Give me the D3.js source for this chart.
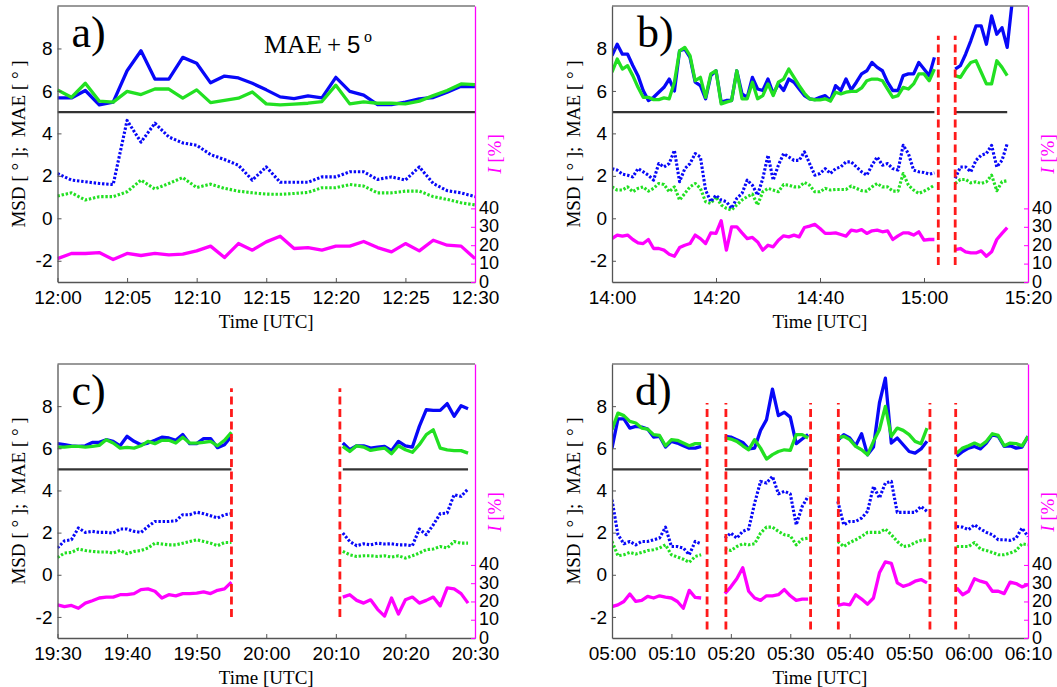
<!DOCTYPE html>
<html>
<head>
<meta charset="utf-8">
<title>MAE / MSD / I</title>
<style type="text/css">
body { margin: 0; background: #fff; }
svg text { fill: #000; }
</style>
</head>
<body>
<script src="https://d3js.org/d3.v7.min.js"></script>
<script type="text/javascript">
// ---- data ----------------------------------------------------------------
// MAE is plotted shifted by +5 deg (see the "MAE + 5 o" note in panel a)
const MAE_SHIFT = 5;
const LEFT_DOMAIN = [-3, 10];
const RIGHT_DOMAIN = [0, 150];
const leftTicks = [-2, 0, 2, 4, 6, 8];
const rightTicks = [0, 10, 20, 30, 40];
const panelLabels = ["a)", "b)", "c)", "d)"];

const xTicksA = ["12:00", "12:05", "12:10", "12:15", "12:20", "12:25", "12:30"];
const xTicksB = ["14:00", "14:20", "14:40", "15:00", "15:20"];
const xTicksC = ["19:30", "19:40", "19:50", "20:00", "20:10", "20:20", "20:30"];
const xTicksD = ["05:00", "05:10", "05:20", "05:30", "05:40", "05:50", "06:00", "06:10"];

// one value per minute from each segment start
const segStartA = ["12:00"];
const segEndA = ["12:30"];
const segStartB = ["14:00", "15:06"];
const segEndB = ["15:02", "15:16"];
const segStartC = ["19:30", "20:11"];
const segEndC = ["19:55", "20:29"];
const segStartD = ["05:00", "05:19", "05:38", "05:58"];
const segEndD = ["05:15", "05:33", "05:53", "06:10"];

const gapsA = [];
const gapsB = ["15:02:45", "15:06:00"];
const gapsC = ["19:55:00", "20:10:35"];
const gapsD = ["05:16:00", "05:19:10", "05:33:25", "05:38:05", "05:53:30", "05:57:50"];

// panel a
const maeBlueA = [[0.67,0.67,1.02,0.34,0.47,1.95,2.89,1.56,1.56,2.58,2.30,1.38,1.70,1.61,1.36,1.05,0.72,0.64,0.77,0.67,1.64,0.98,0.80,0.36,0.36,0.47,0.63,0.69,0.94,1.22,1.20]];
const maeGreenA = [[1.05,0.70,1.36,0.52,0.47,0.98,0.83,1.09,1.09,0.66,1.05,0.45,0.55,0.66,0.95,0.39,0.34,0.38,0.42,0.50,1.27,0.39,0.48,0.42,0.42,0.39,0.52,0.78,1.02,1.33,1.30]];
const msdBlueA = [[2.11,1.80,1.72,1.64,1.59,4.61,3.59,4.48,3.83,3.55,3.44,3.00,2.77,2.50,1.80,2.42,1.70,1.70,1.70,1.95,1.95,2.19,2.19,1.83,1.95,1.80,2.42,1.64,1.30,1.20,1.02]];
const msdGreenA = [[1.05,1.20,0.86,1.02,1.02,1.25,1.80,1.38,1.64,1.92,1.45,1.61,1.41,1.28,1.20,1.14,1.13,1.17,1.22,1.44,1.44,1.59,1.52,1.20,1.20,1.28,1.28,1.02,0.89,0.73,0.63]];
const intensA = [[12.7,15.5,15.5,16.0,12.2,15.5,14.4,15.6,14.7,15.1,16.9,19.5,13.3,20.9,17.3,21.8,24.9,18.2,18.7,17.3,19.5,19.5,22.0,18.7,16.4,20.9,16.9,22.7,20.0,19.5,12.7]];

// panel b
const maeBlueB = [
  [2.66,3.2,2.73,2.73,2.2,1.72,1.02,0.55,0.7,0.94,1.17,1.56,1.0,2.89,2.97,2.58,1.41,1.25,0.63,1.72,1.95,0.47,0.55,0.55,1.95,0.86,0.70,1.64,1.09,1.02,1.56,0.86,1.33,1.02,1.56,1.41,1.09,0.78,0.63,0.59,0.70,0.78,0.55,1.25,1.02,1.56,1.05,1.41,1.8,1.95,2.34,2.11,1.95,1.41,1.02,1.02,1.72,1.8,1.8,2.34,2.03,1.72,2.58],
  [2.03,2.19,2.73,3.36,4.06,4.06,3.2,4.53,3.67,3.98,3.05,5.3]
];
const maeGreenB = [
  [1.88,2.5,2.03,2.19,1.72,1.17,0.70,0.70,0.59,0.59,0.67,0.63,1.41,2.89,3.05,2.66,1.48,1.64,0.70,1.8,1.95,0.39,0.47,0.55,1.95,0.63,0.63,1.41,0.63,0.78,1.33,0.78,1.41,1.56,2.03,1.64,1.25,0.89,0.63,0.58,0.58,0.63,0.52,0.94,0.86,0.94,0.98,0.98,1.14,1.48,1.56,1.56,1.48,1.09,0.70,0.78,1.17,1.09,1.33,1.8,1.8,1.48,2.03],
  [1.72,1.64,2.03,2.34,2.42,1.88,1.33,1.33,2.42,2.11,1.72]
];
const msdBlueB = [
  [2.34,2.27,2.08,2.03,1.95,2.34,2.19,2.03,1.8,2.58,2.42,2.58,3.2,1.72,2.34,2.58,3.05,2.89,1.33,0.78,1.09,0.86,0.78,0.47,0.94,1.17,1.8,1.56,1.09,1.88,2.97,1.8,2.5,3.05,2.89,2.73,2.73,3.13,2.58,2.03,2.11,2.34,2.11,2.34,2.42,2.66,2.66,2.42,2.19,2.03,2.5,2.89,2.5,2.58,2.34,2.27,3.44,3.05,2.27,2.19,2.16,2.08,2.14],
  [1.88,2.42,2.42,2.19,2.73,2.97,3.05,3.44,2.42,2.73,3.52]
];
const msdGreenB = [
  [1.48,1.33,1.33,1.48,1.25,1.41,1.48,1.28,1.41,1.64,1.59,1.25,1.48,0.86,1.17,1.48,1.64,1.41,0.78,0.70,1.02,0.63,0.47,0.39,0.63,0.86,1.02,1.14,0.63,1.25,1.41,1.33,1.25,1.59,1.56,1.48,1.48,1.69,1.56,1.25,1.25,1.41,1.33,1.36,1.36,1.36,1.52,1.41,1.30,1.28,1.48,1.64,1.48,1.48,1.28,1.28,2.11,1.56,1.33,1.17,1.28,1.41,1.56],
  [1.64,1.83,1.83,1.67,1.72,1.64,1.72,2.03,1.30,1.72,1.77]
];
const intensB = [
  [23.6,25.5,24.9,25.5,23.1,21.3,20.9,23.1,18.2,18.2,17.3,15.1,14.0,18.7,20.0,20.9,25.5,23.6,20.9,26.7,26.4,33.3,17.3,30.0,30.0,26.7,23.6,24.2,21.8,17.3,20.0,19.1,22.7,25.1,24.5,25.5,24.5,29.6,30.4,31.3,29.1,26.4,26.4,26.7,25.8,24.9,28.2,27.6,28.5,26.4,27.8,28.2,27.3,27.8,23.1,25.1,26.7,26.7,25.5,27.3,22.7,23.1,23.1],
  [17.6,18.2,16.4,15.8,15.8,16.9,14.0,16.4,23.1,26.4,29.5]
];

// panel c
const maeBlueC = [
  [1.22,1.17,1.12,1.09,1.12,1.28,1.28,1.41,1.33,1.12,1.57,1.33,1.17,1.25,1.38,1.53,1.49,1.38,1.65,1.22,1.22,1.46,1.46,1.03,1.17,1.57],
  [1.25,0.93,1.12,1.12,1.01,1.06,1.09,0.89,1.33,1.12,1.06,2.04,2.83,2.80,2.80,3.12,2.52,3.02,2.88]
];
const maeGreenC = [
  [1.06,1.06,1.09,1.09,1.06,1.09,1.14,1.41,1.25,1.01,1.04,1.01,1.12,1.33,1.22,1.38,1.38,1.25,1.53,1.25,1.25,1.28,1.33,1.12,1.38,1.76],
  [1.09,0.85,1.12,1.06,0.90,0.96,1.01,0.74,1.12,0.93,0.81,1.17,1.65,1.88,1.01,0.93,0.89,0.89,0.77]
];
const msdBlueC = [
  [1.27,1.61,1.66,2.22,2.01,2.06,2.01,2.01,1.98,2.17,2.17,2.06,2.01,2.29,2.53,2.53,2.53,2.56,2.85,2.85,2.97,2.90,2.80,2.69,2.85,2.90],
  [1.98,1.58,1.38,1.47,1.42,1.50,1.46,1.47,1.42,1.42,1.38,2.17,1.90,2.37,2.90,2.93,3.80,3.72,4.07]
];
const msdGreenC = [
  [0.82,1.03,1.06,1.22,1.15,1.11,1.08,1.08,1.03,1.15,1.00,1.11,1.15,1.27,1.50,1.46,1.42,1.42,1.50,1.58,1.66,1.58,1.50,1.38,1.53,1.53],
  [1.11,0.95,0.87,0.90,0.90,0.87,0.90,0.84,0.90,0.79,0.90,1.03,1.19,1.22,1.34,1.27,1.58,1.50,1.50]
];
const intensC = [
  [18.1,17.2,17.8,16.3,19.1,20.4,21.9,22.4,22.4,23.7,23.7,24.3,26.5,26.9,25.6,21.9,23.7,23.1,24.3,24.3,24.6,25.2,24.3,26.1,26.9,30.6],
  [22.4,23.7,20.6,19.1,20.9,15.7,12.0,21.9,13.1,20.9,22.4,19.1,20.6,22.4,17.6,27.4,26.9,24.3,19.1]
];

// panel d
const maeBlueD = [
  [1.01,2.4,2.4,1.96,2.04,2.01,1.91,1.53,1.57,1.06,1.33,1.25,1.12,1.01,1.01,1.09],
  [1.57,1.53,1.41,1.28,0.97,1.01,1.85,2.36,3.81,2.55,2.71,2.48,1.22,1.44,1.65],
  [1.38,1.65,1.49,1.12,1.69,0.69,1.06,3.15,4.33,1.25,1.49,1.17,0.85,0.77,0.97,1.33],
  [0.62,0.85,1.01,1.09,0.97,1.25,1.65,1.57,1.09,1.12,1.01,1.06,1.57]
];
const maeGreenD = [
  [1.88,2.67,2.55,2.28,2.2,1.96,1.91,1.65,1.61,1.12,1.41,1.38,1.25,1.12,1.22,1.22],
  [1.49,1.44,1.33,1.12,0.93,1.41,1.01,0.49,0.7,0.85,0.93,0.9,1.65,1.65,1.49],
  [1.49,1.57,1.41,1.09,0.93,0.69,1.33,1.88,2.99,1.57,1.96,1.85,1.65,1.33,1.22,1.96],
  [0.77,1.01,1.12,1.25,1.12,1.33,1.69,1.61,1.12,1.25,1.22,1.12,1.57]
];
const msdBlueD = [
  [3.56,1.9,1.47,1.58,1.42,1.58,1.58,1.66,1.74,2.26,1.34,1.34,1.27,0.95,1.58,1.47],
  [1.74,1.98,1.74,2.06,2.17,3.4,4.43,4.35,4.67,3.84,3.96,3.84,2.37,3.24,3.72],
  [3.48,2.37,2.53,2.53,2.69,3.01,4.19,3.64,4.35,4.43,2.96,2.96,2.96,2.96,3.24,3.01],
  [2.29,2.26,2.14,2.37,2.17,2.01,1.9,1.66,1.66,1.63,1.74,2.22,1.82]
];
const msdGreenD = [
  [1.58,0.9,0.95,1.06,0.98,1.06,1.15,1.19,1.27,1.42,0.95,0.84,0.74,0.59,0.87,0.95],
  [1.22,1.15,1.34,1.47,1.42,1.47,1.98,2.26,2.26,2.06,1.9,1.85,1.42,1.69,1.74],
  [1.58,1.34,1.53,1.66,1.82,2.01,2.01,2.01,2.17,1.9,1.58,1.34,1.38,1.53,1.63,1.66],
  [1.34,1.34,1.34,1.53,1.22,1.15,1.06,0.95,0.95,1.03,1.15,1.47,1.42]
];
const intensD = [
  [17.2,18.1,20.0,24.1,20.0,20.6,22.8,21.9,23.1,22.4,21.9,20.0,16.3,26.1,22.2,21.9],
  [24.3,28.0,32.4,38.5,25.6,21.9,20.6,23.1,23.1,23.7,26.5,23.1,20.6,21.3,21.3],
  [17.8,18.7,18.1,23.7,21.3,18.5,21.9,35.7,41.7,40.9,30.2,28.3,29.3,31.1,32.0,30.2],
  [27.4,23.7,25.6,32.4,31.1,30.2,25.6,25.6,24.3,30.6,29.8,28.0,29.3]
];

// ---- layout --------------------------------------------------------------
const W = 1057, H = 687;
const SANS = "'Liberation Sans', Arial, Helvetica, sans-serif";
const SERIF = "'Liberation Serif', 'Times New Roman', Times, serif";
const BLUE = "#0808f8", GREEN = "#22e022", MAGENTA = "#ff00ff", RED = "#ff1a1a";

const frames = [
  {x0: 57.5, x1: 475, y0: 6, y1: 282, labelDx: 14, gapY: null},
  {x0: 612, x1: 1028, y0: 6, y1: 282, labelDx: 25, gapY: [-2.2, 8.6]},
  {x0: 57.5, x1: 475, y0: 364, y1: 638, labelDx: 14, gapY: [-2.0, 8.85]},
  {x0: 612, x1: 1028, y0: 364, y1: 638, labelDx: 23, gapY: [-2.6, 8.15]}
];

const panels = [
  {ticks: xTicksA, starts: segStartA, ends: segEndA, gaps: gapsA,
   maeBlue: maeBlueA, maeGreen: maeGreenA, msdBlue: msdBlueA, msdGreen: msdGreenA, intens: intensA},
  {ticks: xTicksB, starts: segStartB, ends: segEndB, gaps: gapsB,
   maeBlue: maeBlueB, maeGreen: maeGreenB, msdBlue: msdBlueB, msdGreen: msdGreenB, intens: intensB},
  {ticks: xTicksC, starts: segStartC, ends: segEndC, gaps: gapsC,
   maeBlue: maeBlueC, maeGreen: maeGreenC, msdBlue: msdBlueC, msdGreen: msdGreenC, intens: intensC},
  {ticks: xTicksD, starts: segStartD, ends: segEndD, gaps: gapsD,
   maeBlue: maeBlueD, maeGreen: maeGreenD, msdBlue: msdBlueD, msdGreen: msdGreenD, intens: intensD}
];

const parseHM = d3.timeParse("%H:%M");
const parseHMS = d3.timeParse("%H:%M:%S");
const parseT = s => (s.length > 5 ? parseHMS(s) : parseHM(s));
const formatT = d3.timeFormat("%H:%M");

const svg = d3.select("body").append("svg")
    .attr("width", W).attr("height", H)
    .attr("viewBox", [0, 0, W, H]);

function styleAxis(g, color, size) {
    g.attr("font-size", size).attr("font-family", SANS);
    g.select(".domain").attr("stroke", color).attr("stroke-width", 1.3);
    g.selectAll(".tick line").attr("stroke", color);
    g.selectAll(".tick text").attr("fill", color);
}

panels.forEach((p, k) => {
    const f = frames[k];
    const x = d3.scaleTime()
        .domain([parseT(p.ticks[0]), parseT(p.ticks[p.ticks.length - 1])])
        .range([f.x0, f.x1]);
    const y = d3.scaleLinear().domain(LEFT_DOMAIN).range([f.y1, f.y0]);
    const yr = d3.scaleLinear().domain(RIGHT_DOMAIN).range([f.y1, f.y0]);

    const g = svg.append("g");

    const clipId = `clip-${k}`;
    g.append("clipPath").attr("id", clipId).append("rect")
        .attr("x", f.x0).attr("y", f.y0)
        .attr("width", f.x1 - f.x0).attr("height", f.y1 - f.y0);

    // series
    const series = (vals, start, shift) =>
        vals.map((v, i) => ({t: d3.timeMinute.offset(parseT(start), i), v: v + shift}));
    const lineL = d3.line().x(d => x(d.t)).y(d => y(d.v));
    const lineR = d3.line().x(d => x(d.t)).y(d => yr(d.v));

    const plot = g.append("g").attr("clip-path", `url(#${clipId})`);

    // MAE zero line (MAE = 0 sits at 5 on the shifted scale)
    p.starts.forEach((s, j) => {
        plot.append("line")
            .attr("x1", x(parseT(s))).attr("x2", x(parseT(p.ends[j])))
            .attr("y1", y(MAE_SHIFT)).attr("y2", y(MAE_SHIFT))
            .attr("stroke", "#333").attr("stroke-width", 2.3);
    });

    const draw = (segs, gen, shift, color, dotted) => {
        segs.forEach((vals, j) => {
            plot.append("path").datum(series(vals, p.starts[j], shift))
                .attr("fill", "none")
                .attr("stroke", color)
                .attr("stroke-width", dotted ? 3.1 : 3.3)
                .attr("stroke-linejoin", "round")
                .attr("stroke-dasharray", dotted ? "2.4,1.8" : null)
                .attr("d", gen);
        });
    };
    draw(p.msdGreen, lineL, 0, GREEN, true);
    draw(p.msdBlue, lineL, 0, BLUE, true);
    draw(p.intens, lineR, 0, MAGENTA, false);
    draw(p.maeBlue, lineL, MAE_SHIFT, BLUE, false);
    draw(p.maeGreen, lineL, MAE_SHIFT, GREEN, false);

    // gaps in the record
    p.gaps.forEach(t => {
        g.append("line")
            .attr("x1", x(parseT(t))).attr("x2", x(parseT(t)))
            .attr("y1", y(f.gapY[0])).attr("y2", y(f.gapY[1]))
            .attr("stroke", RED).attr("stroke-width", 2.8)
            .attr("stroke-dasharray", "8,4.5");
    });

    // frame top
    g.append("line")
        .attr("x1", f.x0).attr("x2", f.x1).attr("y1", f.y0).attr("y2", f.y0)
        .attr("stroke", "#777").attr("stroke-width", 1.5);

    // axes
    g.append("g")
        .attr("transform", `translate(0,${f.y1})`)
        .call(d3.axisBottom(x).tickValues(p.ticks.map(parseT)).tickFormat(formatT)
            .tickSizeInner(-4).tickSizeOuter(0).tickPadding(9))
        .call(a => styleAxis(a, "#555", 19))
        .call(a => a.selectAll(".tick text").attr("fill", "#111"));

    g.append("g")
        .attr("transform", `translate(${f.x0},0)`)
        .call(d3.axisLeft(y).tickValues(leftTicks).tickFormat(d3.format("d"))
            .tickSizeInner(-4).tickSizeOuter(0).tickPadding(5))
        .call(a => styleAxis(a, "#555", 19))
        .call(a => a.selectAll(".tick text").attr("fill", "#111").text(d => d < 0 ? "-" + Math.abs(d) : d));

    g.append("g")
        .attr("transform", `translate(${f.x1},0)`)
        .call(d3.axisRight(yr).tickValues(rightTicks)
            .tickSizeInner(-4).tickSizeOuter(0).tickPadding(4))
        .call(a => styleAxis(a, MAGENTA, 18))
        .call(a => a.selectAll(".tick text").attr("dy", "0.28em"));

    // titles
    g.append("text")
        .attr("x", (f.x0 + f.x1) / 2).attr("y", f.y1 + 46)
        .attr("text-anchor", "middle")
        .attr("font-family", SERIF).attr("font-size", 19)
        .text("Time [UTC]");

    g.append("text")
        .attr("transform", `translate(${f.x0 - 39},${(f.y0 + f.y1) / 2}) rotate(-90)`)
        .attr("text-anchor", "middle").attr("dominant-baseline", "central")
        .attr("font-family", SERIF).attr("font-size", 19)
        .style("white-space", "pre")
        .text("MSD [ \u00b0 ];  MAE [ \u00b0 ]");

    const rl = g.append("text")
        .attr("transform", `translate(${f.x1 + 19},${f.y0 + 148}) rotate(-90)`)
        .attr("text-anchor", "middle").attr("dominant-baseline", "central")
        .attr("font-family", SERIF).attr("font-size", 19)
        .style("white-space", "pre")
        .style("fill", MAGENTA);
    rl.append("tspan").attr("font-style", "italic").text("I");
    rl.append("tspan").text(" [%]");

    g.append("text")
        .attr("x", f.x0 + f.labelDx).attr("y", f.y0 + 41)
        .attr("font-family", SERIF).attr("font-size", 44)
        .text(panelLabels[k]);

    if (k === 0) {
        const note = g.append("text").attr("y", f.y0 + 47);
        note.append("tspan").attr("x", 264).attr("font-family", SERIF).attr("font-size", 26).text("MAE");
        note.append("tspan").attr("x", 327).attr("font-family", SERIF).attr("font-size", 25).text("+");
        note.append("tspan").attr("x", 347).attr("font-family", SANS).attr("font-size", 24).text("5");
        note.append("tspan").attr("x", 364).attr("dy", -11).attr("font-family", SERIF).attr("font-size", 16).text("o");
    }
});
</script>
</body>
</html>
